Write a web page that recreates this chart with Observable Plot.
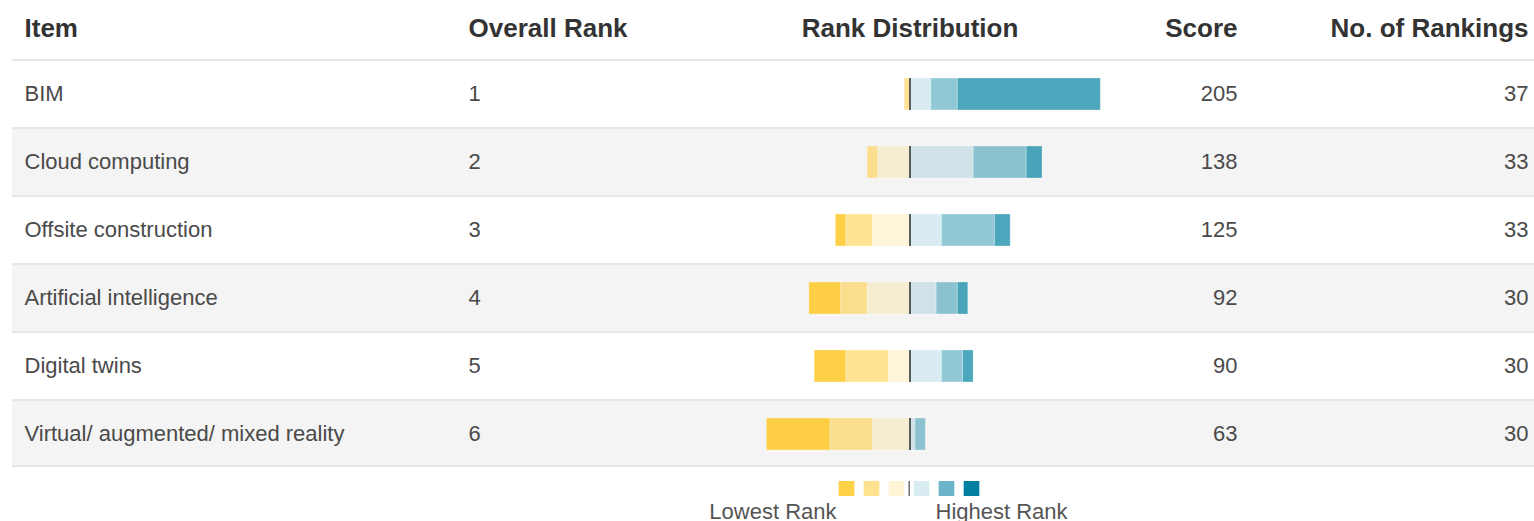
<!DOCTYPE html>
<html><head><meta charset="utf-8">
<script src="https://cdn.jsdelivr.net/npm/d3@7"></script>
<script src="https://cdn.jsdelivr.net/npm/@observablehq/plot@0.6"></script>
<style>body{margin:0;background:#fff;} #chart svg{display:block;}</style>
</head><body><div id="chart"></div>
<script>
const items = ["BIM","Cloud computing","Offsite construction","Artificial intelligence","Digital twins","Virtual/ augmented/ mixed reality"];
const overallRank = [1,2,3,4,5,6];
const scores = [205,138,125,92,90,63];
const numRankings = [37,33,33,30,30,30];
// number of respondents placing each item at rank position 1 (highest) ... 6 (lowest)
const rank1 = [27,3,3,2,2,0];
const rank2 = [5,10,10,4,4,2];
const rank3 = [4,12,6,5,6,1];
const rank4 = [0,6,7,8,4,7];
const rank5 = [1,2,5,5,8,8];
const rank6 = [0,0,2,6,6,12];
const headers = ["Item","Overall Rank","Rank Distribution","Score","No. of Rankings"];
const legendLabels = ["Lowest Rank","Highest Rank"];
const legendRanks = [6,5,4,3,2,1];

const yellowBase = "#FFC826", blueBase = "#0080A0";
const barFill = {1: blueBase, 2: blueBase, 3: blueBase, 4: yellowBase, 5: yellowBase, 6: yellowBase};
const barOpacity = {1: 0.7, 2: 0.43, 3: 0.15, 4: 0.18, 5: 0.5, 6: 0.85};
const legendColors = {1:"#007FA0",2:"#6BB3C8",3:"#D9ECF2",4:"#FFF4D6",5:"#FFE28D",6:"#FFD147"};

const rows = items.map((item,i)=>({item, rank: overallRank[i], score: scores[i], n: numRankings[i], idx: i}));
const rankArrays = {1:rank1,2:rank2,3:rank3,4:rank4,5:rank5,6:rank6};
const long = [];
items.forEach((item,i)=>{
  for (let r=1;r<=6;r++){
    const c = rankArrays[r][i];
    if (c>0) long.push({item, rank:r, count:c, value: r<=3 ? c : -c});
  }
});

const W = 1534, ML = 12, zeroX = 909.5, pxPerCount = 5.3;
const xDomain = [-(zeroX-ML)/pxPerCount, (W-zeroX)/pxPerCount];
const font = "'Liberation Sans', Arial, Helvetica, sans-serif";
const bodyColor = "#4a4a4a", headColor = "#333";

const main = Plot.plot({
  width: W, height: 469,
  marginLeft: ML, marginRight: 0, marginTop: 59, marginBottom: 2,
  style: {fontFamily: font, background: "transparent", overflow: "visible"},
  x: {domain: xDomain, axis: null},
  y: {type: "band", domain: items, padding: 0, axis: null},
  marks: [
    Plot.cell(rows, {y: "item", fill: "#E6E6E6"}),
    Plot.cell(rows, {y: "item", fill: d => d.idx % 2 ? "#F4F4F4" : "#FFFFFF", insetTop: 2}),
    Plot.cell(rows.slice(-1), {y: "item", fill: "#E6E6E6", insetTop: 66}),
    Plot.barX(long, Plot.stackX({
      x: "value", y: "item", z: "rank", order: [3,2,1,4,5,6],
      fill: d => barFill[d.rank], fillOpacity: d => barOpacity[d.rank],
      stroke: "#fff", strokeOpacity: 0.3, strokeWidth: 1,
      insetTop: 19, insetBottom: 17
    })),
    Plot.tickX(rows, {x: () => 0, y: "item", stroke: "#444", strokeWidth: 1.7, insetTop: 19, insetBottom: 17}),
    Plot.text(rows, {y: "item", text: "item", frameAnchor: "left", dx: 12, textAnchor: "start", fontSize: 22, fill: bodyColor}),
    Plot.text(rows, {y: "item", text: d => String(d.rank), frameAnchor: "left", dx: 456, textAnchor: "start", fontSize: 22, fill: bodyColor}),
    Plot.text(rows, {y: "item", text: d => String(d.score), frameAnchor: "left", dx: 1225, textAnchor: "end", fontSize: 22, fill: bodyColor}),
    Plot.text(rows, {y: "item", text: d => String(d.n), frameAnchor: "left", dx: 1516, textAnchor: "end", fontSize: 22, fill: bodyColor}),
    Plot.text([headers[0]], {text: d => d, frameAnchor: "top-left", dx: 12, dy: -41, textAnchor: "start", fontSize: 26, fontWeight: "bold", fill: headColor}),
    Plot.text([headers[1]], {text: d => d, frameAnchor: "top-left", dx: 456, dy: -41, textAnchor: "start", fontSize: 26, fontWeight: "bold", fill: headColor}),
    Plot.text([headers[2]], {x: () => 0, text: d => d, frameAnchor: "top", dy: -41, textAnchor: "middle", fontSize: 26, fontWeight: "bold", fill: headColor}),
    Plot.text([headers[3]], {text: d => d, frameAnchor: "top-left", dx: 1225, dy: -41, textAnchor: "end", fontSize: 26, fontWeight: "bold", fill: headColor}),
    Plot.text([headers[4]], {text: d => d, frameAnchor: "top-left", dx: 1516, dy: -41, textAnchor: "end", fontSize: 26, fontWeight: "bold", fill: headColor})
  ]
});

const LL = 833, LR = 985, bw = (LR-LL)/legendRanks.length;
const legend = Plot.plot({
  width: W, height: 52,
  marginLeft: LL, marginRight: W - LR, marginTop: 12, marginBottom: 25,
  style: {fontFamily: font, background: "transparent", overflow: "visible"},
  x: {type: "band", domain: legendRanks, padding: 0, axis: null},
  marks: [
    Plot.cell(legendRanks, {x: d => d, fill: d => legendColors[d], insetLeft: (bw-16)/2, insetRight: (bw-16)/2}),
    Plot.cell([4], {x: d => d, fill: "#444", insetLeft: bw - 0.75, insetRight: -0.75}),
    Plot.text([legendLabels[0]], {text: d => d, frameAnchor: "bottom-left", dx: 3, dy: 22, textAnchor: "end", fontSize: 22, fill: "#555"}),
    Plot.text([legendLabels[1]], {text: d => d, frameAnchor: "bottom-left", dx: 102, dy: 22, textAnchor: "start", fontSize: 22, fill: "#555"})
  ]
});

const host = document.getElementById("chart");
host.appendChild(main);
host.appendChild(legend);
</script>
</body></html>
